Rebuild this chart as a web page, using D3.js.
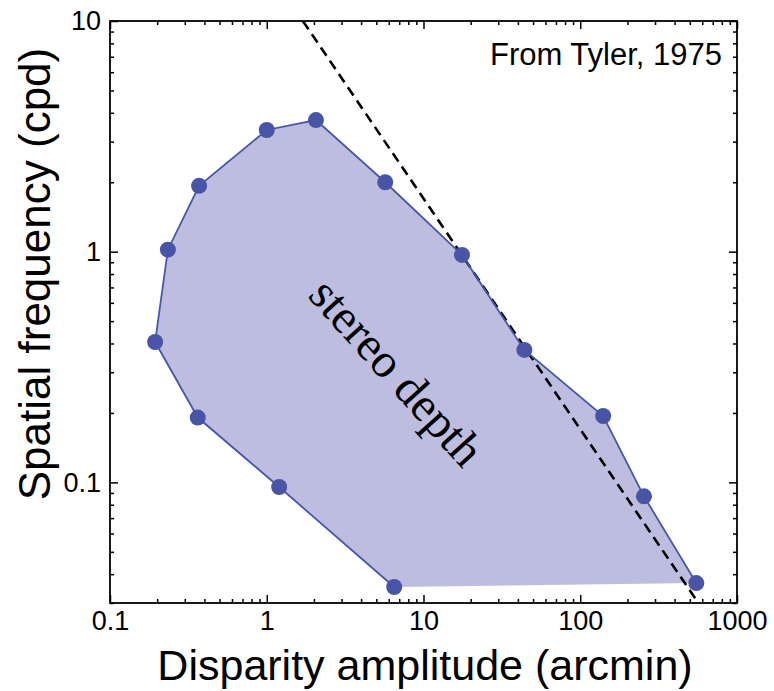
<!DOCTYPE html>
<html>
<head>
<meta charset="utf-8">
<script src="https://cdn.jsdelivr.net/npm/d3@7"></script>
<style>
  html, body { margin: 0; padding: 0; background: #fff; }
  svg { display: block; }
</style>
</head>
<body>
<svg id="chart" width="774" height="691"></svg>
<script>
// Stereo depth region: disparity amplitude (arcmin) vs spatial frequency (cpd)
// Boundary points, from the bottom-right corner going round to the far left
const disparity = [550, 255, 140, 44, 17.6, 5.7, 2.06, 1.0, 0.37, 0.234, 0.194, 0.363, 1.2, 6.5];
const frequency = [0.0366, 0.087, 0.194, 0.375, 0.968, 2.0, 3.72, 3.37, 1.93, 1.02, 0.406, 0.191, 0.0955, 0.0352];

// Dashed limit: frequency x disparity = constant
const limitProduct = 17;
const limitDisparity = [1.7, 567];

const xTicks = [0.1, 1, 10, 100, 1000];
const xTickLabels = ["0.1", "1", "10", "100", "1000"];
const yTicks = [0.1, 1, 10];
const yTickLabels = ["0.1", "1", "10"];

const xLabel = "Disparity amplitude (arcmin)";
const yLabel = "Spatial frequency (cpd)";
const sourceNote = "From Tyler, 1975";
const regionLabel = "stereo depth";

const svg = d3.select("#chart");
const mLeft = 110, mRight = 737, mTop = 21, mBottom = 603;

const x = d3.scaleLog().domain([0.1, 1000]).range([mLeft, mRight]);
const y = d3.scaleLog().domain([0.03, 10]).range([mBottom, mTop]);

const sans = "'Liberation Sans', Arial, Helvetica, sans-serif";
const serif = "'Liberation Serif', 'Times New Roman', serif";

const pts = disparity.map((d, i) => [d, frequency[i]]);
const line = d3.line().x(d => x(d[0])).y(d => y(d[1]));

// clip for everything inside the frame
svg.append("clipPath").attr("id", "plotClip")
  .append("rect").attr("x", mLeft).attr("y", mTop)
  .attr("width", mRight - mLeft).attr("height", mBottom - mTop);

const plot = svg.append("g").attr("clip-path", "url(#plotClip)");

// filled region
plot.append("path")
  .attr("d", line(pts) + "Z")
  .attr("fill", "#bdbddf")
  .attr("stroke", "none");

// dashed limit line
const limitPts = limitDisparity.map(d => [d, limitProduct / d]);
plot.append("path")
  .attr("d", line(limitPts))
  .attr("fill", "none")
  .attr("stroke", "#000")
  .attr("stroke-width", 2.6)
  .attr("stroke-dasharray", "10,6");

// outline: every edge except the flat bottom edge
plot.append("path")
  .attr("d", line(pts))
  .attr("fill", "none")
  .attr("stroke", "#4857a7")
  .attr("stroke-width", 1.8);

// data points
svg.append("g").selectAll("circle")
  .data(pts).join("circle")
  .attr("cx", d => x(d[0]))
  .attr("cy", d => y(d[1]))
  .attr("r", 8)
  .attr("fill", "#4854a6");

// minor tick values
const xMinor = [];
[0.1, 1, 10, 100].forEach(b => { for (let k = 2; k <= 9; k++) xMinor.push(b * k); });
const yMinor = [];
[0.01, 0.1, 1].forEach(b => { for (let k = 2; k <= 9; k++) { const v = b * k; if (v >= 0.03 && v < 10) yMinor.push(v); } });

function styleAxis(g) {
  g.select(".domain").remove();
  g.selectAll(".tick line").attr("stroke", "#000").attr("stroke-width", 1.5);
}

// bottom axis
svg.append("g").attr("transform", `translate(0,${mBottom})`)
  .call(d3.axisBottom(x).tickValues(xMinor).tickSize(-4).tickFormat(""))
  .call(styleAxis);
svg.append("g").attr("transform", `translate(0,${mBottom})`)
  .call(d3.axisBottom(x).tickValues(xTicks).tickSize(-8).tickPadding(8)
    .tickFormat((d, i) => xTickLabels[i]))
  .call(styleAxis)
  .call(g => g.selectAll("text").attr("font-family", sans).attr("font-size", 27).attr("fill", "#000"));
// top axis
svg.append("g").attr("transform", `translate(0,${mTop})`)
  .call(d3.axisTop(x).tickValues(xMinor).tickSize(-4).tickFormat(""))
  .call(styleAxis);
svg.append("g").attr("transform", `translate(0,${mTop})`)
  .call(d3.axisTop(x).tickValues(xTicks).tickSize(-8).tickFormat(""))
  .call(styleAxis);
// left axis
svg.append("g").attr("transform", `translate(${mLeft},0)`)
  .call(d3.axisLeft(y).tickValues(yMinor).tickSize(-4).tickFormat(""))
  .call(styleAxis);
svg.append("g").attr("transform", `translate(${mLeft},0)`)
  .call(d3.axisLeft(y).tickValues(yTicks).tickSize(-8).tickPadding(9)
    .tickFormat((d, i) => yTickLabels[i]))
  .call(styleAxis)
  .call(g => g.selectAll("text").attr("font-family", sans).attr("font-size", 27).attr("fill", "#000"));
// right axis
svg.append("g").attr("transform", `translate(${mRight},0)`)
  .call(d3.axisRight(y).tickValues(yMinor).tickSize(-4).tickFormat(""))
  .call(styleAxis);
svg.append("g").attr("transform", `translate(${mRight},0)`)
  .call(d3.axisRight(y).tickValues(yTicks).tickSize(-8).tickFormat(""))
  .call(styleAxis);

// frame
svg.append("rect")
  .attr("x", mLeft).attr("y", mTop)
  .attr("width", mRight - mLeft).attr("height", mBottom - mTop)
  .attr("fill", "none").attr("stroke", "#000").attr("stroke-width", 1.8);

// axis titles
svg.append("text")
  .attr("x", 425).attr("y", 680)
  .attr("text-anchor", "middle")
  .attr("font-family", sans).attr("font-size", 43)
  .text(xLabel);
svg.append("text")
  .attr("transform", `translate(50,274) rotate(-90)`)
  .attr("text-anchor", "middle")
  .attr("font-family", sans).attr("font-size", 44)
  .text(yLabel);

// source note
svg.append("text")
  .attr("x", 722).attr("y", 65)
  .attr("text-anchor", "end")
  .attr("font-family", sans).attr("font-size", 31)
  .text(sourceNote);

// region label
svg.append("text")
  .attr("transform", `translate(397,372) rotate(48)`)
  .attr("text-anchor", "middle")
  .attr("dominant-baseline", "central")
  .attr("font-family", serif).attr("font-size", 48)
  .text(regionLabel);
</script>
</body>
</html>
